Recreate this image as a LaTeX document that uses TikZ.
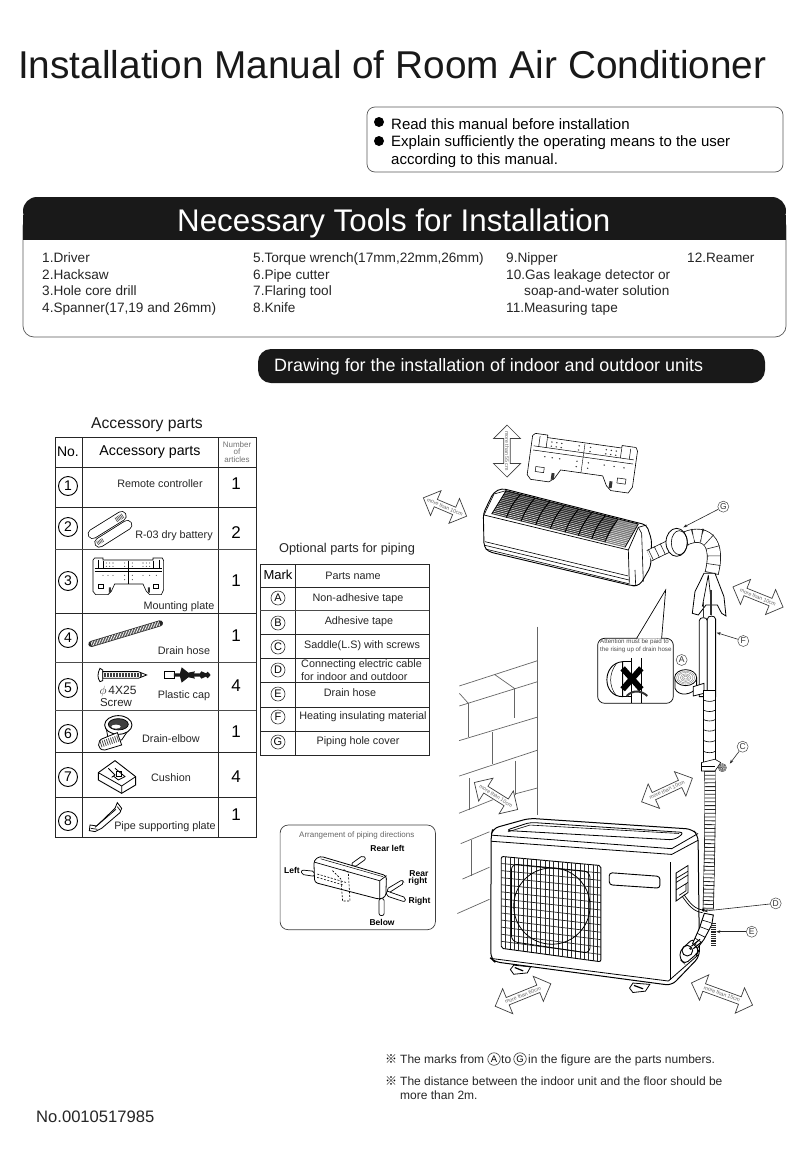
\documentclass[tikz,border=0pt]{standalone}
\usepackage{fontspec}
\setmainfont{Liberation Sans}
\newfontfamily\cjkf{Noto Sans CJK SC}
\usetikzlibrary{shapes.arrows,arrows.meta,calc}
\newcommand{\fs}[1]{\fontsize{#1}{#1}\selectfont}
\tikzset{
  zi/.style={shift={(40,410)},x=0.3333pt,y=-0.3333pt},
  zii/.style={shift={(400,410)},x=0.3333pt,y=-0.3333pt},
  ziii/.style={shift={(270,690)},x=0.3376pt,y=-0.3376pt},
  ziv/.style={shift={(470,470)},x=0.3333pt,y=-0.3333pt},
  zv/.style={shift={(660,880)},x=0.3333pt,y=-0.3333pt},
  grid line/.style={line width=1pt,draw=black!85},
  thin grid/.style={line width=0.6pt,draw=black!70},
  wall/.style={line width=0.7pt,draw=black!60},
  num/.style={circle,draw=black,line width=0.9pt,minimum size=19pt,inner sep=0pt,font=\fs{14}},
  mk/.style={circle,draw=black!80,line width=0.6pt,minimum size=14pt,inner sep=0pt,font=\fs{11}},
  lab/.style={circle,draw=black!70,line width=0.5pt,minimum size=11pt,inner sep=0pt,font=\fs{8.5},text=black!80},
  txt/.style={inner sep=0pt,font=\fs{10.8},text=black!85},
  base/.style={inner sep=0pt,anchor=base west},
  darrow/.style={shape=double arrow,draw=black!75,fill=white,line width=0.7pt,minimum height=#1,minimum width=27pt,double arrow head extend=5.5pt,inner sep=0pt,font=\fs{5.3},text=black!60},
  leader/.style={line width=0.6pt,draw=black!85,-{Stealth[length=4pt,width=3pt]}},
  plate/.pic={
    \draw[line width=0.6pt,fill=white] (5,0)--(30,0)--(30,6)--(180,6)--(180,0)--(208,0)--(212,8)--(212,95)--(205,110)--(170,110)--(160,100)--(150,78)--(65,78)--(55,100)--(45,110)--(8,110)--(0,100)--(0,6)--cycle;
    \draw[line width=0.5pt] (5,30)--(207,30) (5,40)--(207,40) (15,5)--(15,30) (198,5)--(198,30) (30,8)--(30,30) (180,8)--(180,30);
    \draw[line width=0.4pt] (106,8)--(106,78);
    \foreach \x/\y in {40/15,50/15,60/15,95/15,118/15,150/15,160/15,170/15,40/25,50/25,60/25,95/25,118/25,150/25,160/25,170/25,30/52,45/52,60/52,95/52,118/52,150/52,170/52,190/52,95/65,118/65}
      {\fill[black!80] (\x,\y) circle[radius=1.7];}
    \draw[line width=0.5pt] (15,78) rectangle (32,90) (180,78) rectangle (197,90);
    \fill[black!80] (48,88) rectangle (54,104) (165,88) rectangle (171,104);
  }
}
\begin{document}
\begin{tikzpicture}[x=1pt,y=-1pt]
\useasboundingbox (0,0) rectangle (808,1170);
\fill[white] (0,0) rectangle (808,1170);

% ---------- headings
\node[base,font=\fs{38.8},text=black!90] (title) at (18,78) {Installation Manual of Room Air Conditioner};
\draw[line width=0.7pt,draw=black!65,rounded corners=8pt] (367,107) rectangle (783,172);
\fill[black] (379,122) circle[radius=5] (379,141) circle[radius=5];
\node[base,font=\fs{15}] (n1) at (391,129) {Read this manual before installation};
\node[base,font=\fs{15}] (n2) at (391,146) {Explain sufficiently the operating means to the user};
\node[base,font=\fs{15}] (n3) at (391,164) {according to this manual.};

% tools panel
\draw[line width=0.7pt,draw=black!65,rounded corners=11pt] (23,215) rectangle (786,337);
\fill[black!90,rounded corners=14pt] (23,197) rectangle (786,225);
\fill[black!90] (23,215) rectangle (786,240);
\node[base,font=\fs{31.3},text=white] (tools) at (177,231) {Necessary Tools for Installation};
\foreach \x/\y/\t/\n in {42/262/{1.Driver}/a,42/279/{2.Hacksaw}/b,42/295.5/{3.Hole core drill}/c,42/312/{4.Spanner(17,19 and 26mm)}/d,
  253/262/{5.Torque wrench(17mm,22mm,26mm)}/e,253/279/{6.Pipe cutter}/f,253/295.5/{7.Flaring tool}/g,253/312/{8.Knife}/h,
  506/262/{9.Nipper}/i,506/279/{10.Gas leakage detector or}/j,524/295.5/{soap-and-water solution}/k,506/312/{11.Measuring tape}/l,687/262/{12.Reamer}/m}
  {\node[base,font=\fs{13.6},text=black!85] (t\n) at (\x,\y) {\t};}
\fill[black!90,rounded corners=13pt] (258,349) rectangle (765,383);
\node[base,font=\fs{17.9},text=white] (band) at (274,371) {Drawing for the installation of indoor and outdoor units};

% ---------- accessory table
\node[font=\fs{15.7},inner sep=0pt,text=black!90] (acc) at (147,425) {Accessory parts};
\draw[grid line] (55,437) rectangle (256,837);
\draw[grid line] (82,437)--(82,837) (218,437)--(218,837);
\foreach \y in {467,507,613,752,797} {\draw[grid line] (55,\y)--(256,\y);}
\foreach \y in {549,662,710} {\draw[thin grid] (55,\y)--(256,\y);}
\node[font=\fs{14},inner sep=0pt] (hno) at (68,452) {No.};
\node[font=\fs{14.2},inner sep=0pt] (hap) at (150,452) {Accessory parts};
\node[align=center,font=\fs{8},text=black!55,inner sep=0pt] (hnum) at (237,452) {Number\\[-0.5pt]of\\[-0.5pt]articles};
\foreach \n/\y/\q/\qy in {1/486/1/484,2/527/2/533,3/581/1/581,4/638/1/636,5/688/4/686,6/734/1/732,7/777/4/777,8/821/1/815}
  {\node[num] (no\n) at (68,\y) {\n}; \node[font=\fs{17},inner sep=0pt] (qty\n) at (236,\qy) {\q};}
\node[txt] (p1) at (160,484) {Remote controller};
\node[txt] (p2) at (174,536) {R-03 dry battery};
\node[txt] (p3) at (179,607) {Mounting plate};
\node[txt] (p4) at (184,651) {Drain hose};
\node[txt,font=\fs{12}] (p5a) at (118,691) {$\phi$\,4X25};
\node[txt,font=\fs{11.5}] (p5b) at (116,703) {Screw};
\node[txt] (p5c) at (184,696) {Plastic cap};
\node[txt] (p6) at (171,739) {Drain-elbow};
\node[txt] (p7) at (171,778) {Cushion};
\node[txt] (p8) at (165,827) {Pipe supporting plate};

% icons
\begin{scope}[zi]
  % batteries
  \draw[line cap=round,line width=10pt,black] (158,372)--(245,318);
  \draw[line cap=round,line width=8.4pt,white] (158,372)--(245,318);
  \draw[line cap=round,line width=10pt,black] (178,398)--(262,345);
  \draw[line cap=round,line width=8.4pt,white] (178,398)--(262,345);
  \draw[line width=5pt,black!70,dash pattern=on 0.6pt off 0.9pt] (228,330)--(250,316);
  \draw[line width=4pt,black!70,dash pattern=on 0.6pt off 0.9pt] (172,400)--(190,389);
  % drain hose
  \draw[line width=6pt,black!85,line cap=round] (154,702)--(360,640);
  \draw[line width=4.6pt,white,dash pattern=on 0.7pt off 0.9pt] (154,702)--(360,640);
  % screw
  \draw[line width=0.8pt,fill=white] (180,775) .. controls (172,790) and (172,805) .. (180,815) -- (188,812) -- (188,780) -- cycle;
  \draw[line width=0.8pt,fill=white] (188,785)--(295,785)--(320,795)--(295,805)--(188,805)--cycle;
  \draw[line width=4pt,black!75,dash pattern=on 0.7pt off 0.8pt] (192,795)--(305,795);
  % plastic cap
  \draw[line width=0.8pt,fill=white] (372,785) rectangle (402,805);
  \fill[black!90] (402,790)--(420,790)--(425,772)--(445,788)--(465,784)--(462,790)--(480,790)--(484,784)--(498,790)--(503,785)--(512,795)--(503,805)--(498,800)--(484,806)--(480,800)--(462,800)--(465,806)--(445,802)--(425,818)--(420,800)--(402,800)--cycle;
  % drain elbow
  \draw[line width=0.8pt,fill=white] (198,950)--(205,990)--(245,990)--(272,950)--cycle;
  \draw[line width=0.9pt,fill=white] (235,945) ellipse[x radius=41,y radius=28];
  \draw[line width=0.7pt,fill=black!75] (235,943) ellipse[x radius=30,y radius=17];
  \fill[white] (228,950) ellipse[x radius=14,y radius=6];
  \draw[line width=0.8pt,fill=white] (190,985)--(232,968)--(245,1005)--(195,1020)..controls (170,1022) and (170,990) .. cycle;
  \draw[line width=6.5pt,black!70,dash pattern=on 0.8pt off 1.4pt] (182,1003)--(236,985);
  % cushion
  \draw[line width=0.9pt,fill=white] (175,1088)--(225,1052)--(287,1100)--(287,1125)--(245,1150)--(175,1110)--cycle;
  \draw[line width=0.8pt] (175,1088)--(245,1128)--(287,1100) (245,1128)--(245,1150);
  \draw[line width=0.8pt] (205,1075)--(225,1095)--(215,1102) (225,1075)--(255,1100)--(235,1110)--(220,1098);
  \draw[line width=0.8pt] (230,1085) rectangle (245,1098);
  % pipe supporting plate
  \draw[line width=0.8pt,fill=white] (150,1245)--(170,1248)--(225,1195)--(232,1178)--(245,1195)--(240,1208)--(185,1255)--(165,1265)--(148,1262)--cycle;
  \draw[line width=0.7pt] (165,1252)--(228,1198) (152,1255)--(172,1258) (232,1190)--(242,1203);
\end{scope}
\begin{scope}[shift={(93,558)},x=0.3333pt,y=-0.3333pt]
  \pic at (0,0) {plate};
\end{scope}

% ---------- optional parts table
\node[font=\fs{12.8},inner sep=0pt,text=black!85] (opt) at (347,549) {Optional parts for piping};
\draw[grid line] (260,564) rectangle (429,755);
\draw[grid line] (295,564)--(295,755);
\foreach \y in {587,634,658,682,707,731} {\draw[grid line] (260,\y)--(429,\y);}
\draw[thin grid] (260,610)--(429,610);
\node[font=\fs{13},inner sep=0pt] (mark) at (278,575) {Mark};
\node[txt] (pn) at (353,576) {Parts name};
\foreach \l/\y in {A/598,B/623,C/647,D/670,E/694,F/717,G/742}
  {\node[mk] (m\l) at (278,\y) {\l};}
\node[txt] (oa) at (358,599) {Non-adhesive tape};
\node[txt] (ob) at (359,622) {Adhesive tape};
\node[txt] (oc) at (362,646) {Saddle(L.S) with screws};
\node[txt,anchor=west] (od1) at (301,665) {Connecting electric cable};
\node[txt,anchor=west] (od2) at (301,677) {for indoor and outdoor};
\node[txt] (oe) at (350,693) {Drain hose};
\node[txt] (of) at (363,717) {Heating insulating material};
\node[txt] (og) at (358,742) {Piping hole cover};

% ---------- wall (upper)
\begin{scope}[zii]
  \draw[wall] (413,650)--(413,850);
  \draw[wall] (178,828)--(413,752) (178,888)--(413,815) (283,793)--(343,835) (178,850)--(205,880);
  \draw[wall] (343,835)--(343,925) (205,880)--(205,930);
\end{scope}
\begin{scope}[ziii]
  \draw[wall] (793,0)--(793,370);
  \draw[wall] (560,150)--(793,80) (560,255)--(793,178) (560,365)--(660,325) (725,308)--(793,290);
  \draw[wall] (565,455)--(650,420) (570,560)--(650,525) (555,662)--(650,620);
  \draw[wall] (588,40)--(588,140) (658,125)--(658,220) (728,210)--(728,310) (590,260)--(590,355) (595,445)--(595,550);
\end{scope}

% ---------- indoor unit
\begin{scope}[shift={(533,433)},rotate=-8,x=0.5pt,y=-0.42pt]
  \pic[transform shape] at (0,0) {plate};
\end{scope}
\node[darrow=52pt,rotate=-90,minimum width=27pt,double arrow head extend=7pt] (a55) at (507,451) {more than 55 cm};
\node[darrow=47pt,rotate=-23] (a1) at (445,507) {more than 10cm};
\begin{scope}[ziv]
  % body
  \draw[line width=0.9pt,fill=white,rounded corners=4pt] (40,130)--(70,68)--(95,55)--(530,165)--(545,210)--(542,290)--(510,345)--(490,348)--(55,245)--(42,230)--cycle;
  \draw[line width=0.7pt] (42,135)--(475,240)--(478,338);
  \draw[line width=0.6pt] (45,215)--(475,318) (45,226)--(477,330) (50,238)--(480,342);
  % grille
  \coordinate (gfl) at (65,132); \coordinate (gfr) at (465,232);
  \coordinate (gbl) at (108,62); \coordinate (gbr) at (505,162);
  \fill[black!82] (gfl)--(gbl)--(gbr)--(gfr)--cycle;
  \foreach \s/\w in {0.05/0.55,0.12/0.55,0.19/0.5,0.26/0.5,0.33/0.45,0.40/0.4,0.47/0.35,0.54/0.35,0.61/0.3,0.68/0.3,0.75/0.25,0.82/0.2,0.89/0.2,0.95/0.15}
    {\draw[white,line width=\w pt] ($(gfl)!\s!(gbl)$)--($(gfr)!\s!(gbr)$);}
  \foreach \t in {0.11,0.22,0.33,0.44,0.55,0.65,0.75,0.85}
    {\draw[black,line width=1pt] ($(gfl)!\t!(gfr)$) to[bend left=10] ($(gbl)!\t!(gbr)$);}
  \fill[white,opacity=0.35] ($(gfl)!0.85!(gfr)$)--($(gbl)!0.85!(gbr)$)--(gbr)--(gfr)--cycle;
  \draw[line width=0.7pt] (gbl)--(gbr) (gfl)--(gbl);
  \draw[line width=0.7pt] (gbr)--(gfr);
  % end caps
  \draw[line width=0.7pt] (475,240)--(505,172)--(530,165);
  \draw[line width=0.6pt] (505,172)--(515,190)--(520,335) (495,300)--(497,345);
  \draw[line width=0.6pt] (42,135)--(72,72)--(108,62);
\end{scope}
\begin{scope}[zii]
  % small hose to ring
  \draw[line width=12pt,black] (748,437)--(835,395);
  \draw[line width=10.6pt,white] (748,437)--(835,395);
  \draw[line width=12pt,black!85,dash pattern=on 0.6pt off 6pt] (752,435)--(800,412);
  % hose bend
  \draw[line width=14pt,black] (840,395) .. controls (890,360) and (965,370) .. (935,490);
  \draw[line width=12.6pt,white] (840,395) .. controls (890,360) and (965,370) .. (935,490);
  \draw[line width=14pt,black!85,dash pattern=on 0.6pt off 8pt] (855,388) .. controls (895,362) and (965,370) .. (935,490);
  % ring
  \draw[line width=0.8pt,fill=white] (830,397) ellipse[x radius=32,y radius=42];
  \draw[line width=0.6pt] (838,398) ellipse[x radius=24,y radius=36];
  % branch
  \draw[line width=0.8pt,fill=white] (912,490)--(885,545)--(877,610)--(895,615)--(918,585)--(952,585)--(965,610)--(978,618)--(972,560)--(945,490)--cycle;
  \draw[line width=0.7pt] (925,495)--(907,590) (925,495)--(932,560);
  \draw[line width=1.6pt,black!80] (910,575)--(910,620) (933,540)--(933,615);
  % pipes
  \draw[line width=0.8pt,fill=white] (898,632) .. controls (898,620) and (922,620) .. (922,632) -- (922,860)--(898,860)--cycle;
  \draw[line width=0.8pt,fill=white] (922,628) .. controls (922,615) and (947,615) .. (947,628) -- (947,860)--(922,860)--cycle;
  % tape roll A
  \draw[line width=0.8pt,fill=white] (825,805)--(825,835) .. controls (835,862) and (880,855) .. (890,830)--(890,805)--cycle;
  \draw[line width=0.8pt,fill=white] (857,803) ellipse[x radius=33,y radius=24];
  \foreach \r in {6,11,16,22,27} {\draw[line width=0.3pt,black!55] (857,803) ellipse[x radius=\r,y radius=0.72*\r];}
  \draw[line width=0.8pt,fill=white] (880,830)--(912,820)--(912,850)--(880,858)--cycle;
  % attention box
  \draw[line width=0.7pt,fill=white,rounded corners=7pt] (593,685) rectangle (820,880);
  \coordinate (tip) at (797,540);
  \fill[white] (712,686)--(tip)--(783,686)--cycle;
  \draw[line width=0.7pt] (710,685)--(tip)--(785,685);
  \draw[line width=0.9pt] (695,745)--(695,880) (725,745)--(725,880) (668,755)--(668,860);
  \draw[line width=0.9pt,fill=white] (668,755) .. controls (605,760) and (605,860) .. (668,860)--cycle;
  \draw[line width=0.7pt] (668,755)--(695,755) (668,860)--(695,860);
  \draw[line width=0.5pt] (650,760) .. controls (626,790) and (626,830) .. (650,858);
  \draw[line width=2pt,black!80] (680,858) .. controls (700,838) and (725,842) .. (742,858);
  \draw[line width=6pt,black] (668,775)--(724,838) (724,775)--(668,838);
  \node[anchor=base west,inner sep=0pt,font=\fs{6.2},text=black!70] (at1) at (600,700) {Attention must be paid to};
  \node[anchor=base west,inner sep=0pt,font=\fs{6.2},text=black!70] (at2) at (600,725) {the rising up of drain hose};
  % labels
  \node[lab] (lg) at (970,290) {G};
  \coordinate (lgend) at (850,352);
  \draw[leader] (lg)--(lgend);
  \node[lab] (lf) at (1030,693) {F};
  \coordinate (lfend) at (950,668);
  \draw[leader] (lf)--(lfend);
  \node[lab] (la) at (845,750) {A};
\end{scope}
\node[darrow=54pt,rotate=-22] (a2) at (758,597) {more than 10cm};

% ---------- outdoor unit
\node[darrow=51pt,rotate=-32] (a3) at (496,796) {more than 10cm};
\node[darrow=56pt,rotate=25] (a4) at (667,790) {more than 10cm};
\node[darrow=60pt,rotate=22] (a5) at (523,995) {more than 60cm};
\node[darrow=65pt,rotate=-20] (a6) at (722,994) {more than 15cm};
\begin{scope}[ziii]
  % feet
  \draw[line width=0.8pt,fill=white] (712,828)--(722,815)--(772,820)--(762,838)--(722,842)--cycle;
  \draw[line width=1.2pt] (725,822)--(750,832);
  \draw[line width=0.8pt,fill=white] (1065,883)--(1075,868)--(1125,872)--(1112,892)--(1075,896)--cycle;
  \draw[line width=1.2pt] (1078,875)--(1105,885);
  % body
  \draw[line width=1pt,fill=white,rounded corners=6pt] (655,430)--(660,410)--(768,380)--(1250,412)--(1268,430)--(1272,790)--(1190,875)--(665,805)--(654,795)--cycle;
  \draw[line width=0.8pt] (656,430)--(1190,470)--(1268,425);
  \draw[line width=0.8pt] (655,448)--(1190,487)--(1268,445);
  \draw[line width=0.8pt,rounded corners=5pt,fill=white] (698,416)--(770,392)--(1228,422)--(1198,444)--cycle;
  \draw[line width=0.6pt] (705,420)--(770,400)--(1212,425);
  \draw[line width=0.8pt] (1185,510)--(1185,858);
  \draw[line width=0.8pt] (654,795)--(1180,862)--(1268,785);
  % grille
  \coordinate (otl) at (685,493); \coordinate (otr) at (980,520);
  \coordinate (obl) at (685,765); \coordinate (obr) at (980,805);
  \draw[line width=0.9pt,rounded corners=2pt] (otl)--(otr)--(obr)--(obl)--cycle;
  \foreach \t in {0.043,0.087,...,0.99}
    {\draw[line width=0.7pt,black!85] ($(otl)!\t!(otr)$)--($(obl)!\t!(obr)$);}
  \foreach \t in {0.077,0.154,...,0.99}
    {\draw[line width=0.7pt,black!85] ($(otl)!\t!(obl)$)--($(otr)!\t!(obr)$);}
  \draw[line width=0.8pt] (835,640) circle[radius=113];
  \draw[line width=0.8pt,rounded corners=6pt] (715,515)--(948,538)--(948,780)--(715,745)--cycle;
  % plate
  \draw[line width=0.9pt,rounded corners=3pt] (1005,541)--(1155,552)--(1155,587)--(1005,577)--cycle;
  % terminal
  \draw[line width=0.8pt,fill=white] (1203,542)--(1238,520)--(1238,600)--(1203,625)--cycle;
  \draw[line width=0.7pt] (1203,558)--(1238,537) (1203,570)--(1238,548) (1203,592)--(1238,570) (1212,608)--(1232,595)--(1232,575);
  % ribbed hose upper
  \draw[line width=0.9pt,black,fill=white] (1285,0)--(1318,0)--(1318,215)--(1285,215)--cycle;
  \foreach \y in {30,60,88,118,150,182} {\draw[line width=0.6pt] (1285,\y) .. controls (1295,\y+5) and (1310,\y+5) .. (1318,\y);}
  % lower ribbed hose
  \draw[line width=11pt,black] (1303,240) .. controls (1305,400) and (1300,560) .. (1298,650);
  \draw[line width=9.7pt,white] (1303,240) .. controls (1305,400) and (1300,560) .. (1298,650);
  \draw[line width=11pt,black!85,dash pattern=on 0.8pt off 3pt] (1303,240) .. controls (1305,400) and (1300,560) .. (1298,650);
  % clamp
  \draw[line width=0.6pt,fill=white] (1278,215)--(1318,205)--(1335,215)--(1318,240)--(1278,240)--cycle;
  \draw[line width=0.6pt] (1278,225)--(1318,225);
  \foreach \r in {3,6,9,12} {\draw[line width=0.5pt,black!70] (1340,230) circle[radius=\r];}
\end{scope}
\begin{scope}[zv]
  % cable and lower piping
  \draw[line width=0.7pt] (66,48) .. controls (85,75) and (100,95) .. (128,98);
  \draw[line width=0.7pt] (72,44) .. controls (90,70) and (105,88) .. (130,90);
  \fill[black] (130,90) circle[radius=5];
  % corner piece and base curve
  \draw[line width=0.9pt,fill=white,rounded corners=4pt] (60,212)--(100,175)--(116,212)--(112,220)--(75,252)--(60,238)--cycle;
  \draw[line width=0.9pt] (82,212) circle[radius=16];
  % tail of the hose
  \draw[line width=0.9pt,fill=white] (133,100)--(160,105)--(155,135)--(132,178)--(112,205)--(98,190)--(118,145)--cycle;
  \draw[line width=0.6pt] (126,120)--(152,128) (120,140)--(146,150) (112,160)--(136,172) (106,175)--(126,188);
  \draw[line width=1.1pt] (95,198)--(120,178) (100,206)--(125,186);
  \fill[black!85] (92,205) circle[radius=5] (106,192) circle[radius=4];
  % drain hose E
  \draw[line width=4.5pt,black!85,dash pattern=on 1pt off 0.8pt] (160,130)--(160,196);
\end{scope}
\begin{scope}[ziii]
  % labels
  \node[lab] (lc) at (1400,168) {C};
  \coordinate (lcend) at (1362,218);
  \draw[leader] (lc)--(lcend);
  \node[lab] (ld) at (1498,632) {D};
  \coordinate (ldend) at (1285,655);
  \draw[leader] (ld)--(ldend);
  \node[lab] (le) at (1427,716) {E};
  \coordinate (leend) at (1322,716);
  \draw[leader] (le)--(leend);

  % arrangement box
  \draw[line width=0.7pt,draw=black!75,rounded corners=8pt] (30,400) rectangle (490,710);
  \node[font=\fs{8},text=black!60,inner sep=0pt] (arr) at (257,430) {Arrangement of piping directions};
  \node[font=\bfseries\fs{8.5},inner sep=0pt] (rl) at (348,470) {Rear left};
  \node[font=\bfseries\fs{8.5},inner sep=0pt] (lf2) at (65,534) {Left};
  \node[font=\bfseries\fs{8.5},inner sep=0pt] (rr1) at (441,545) {Rear};
  \node[font=\bfseries\fs{8.5},inner sep=0pt] (rr2) at (438,568) {right};
  \node[font=\bfseries\fs{8.5},inner sep=0pt] (rg) at (443,625) {Right};
  \node[font=\bfseries\fs{8.5},inner sep=0pt] (bl) at (332,688) {Below};
  % mini pipes
  \draw[line width=0.7pt,rounded corners=2pt,fill=white] (240,515)--(275,490)--(285,500)--(250,525)--cycle;
  \draw[line width=0.7pt,rounded corners=2pt,fill=white] (345,590)--(392,562)--(397,572)--(350,602)--cycle;
  \draw[line width=0.7pt,rounded corners=2pt,fill=white] (93,533)--(132,537)--(132,552)--(93,546)--cycle;
  \draw[line width=0.7pt,rounded corners=2pt,fill=white] (345,595)--(402,615)--(400,628)--(345,610)--cycle;
  \draw[line width=0.7pt,rounded corners=2pt,fill=white] (323,618)--(338,618)--(338,668)--(323,668)--cycle;
  % mini unit
  \draw[line width=0.8pt,fill=white,rounded corners=3pt] (130,505)--(148,492)--(345,550)--(343,612)--(325,620)--(132,570)--cycle;
  \draw[line width=0.7pt] (132,510)--(325,565)--(325,620) (325,565)--(345,550);
  \draw[line width=0.5pt] (150,500)--(335,553);
  \draw[line width=0.6pt,dash pattern=on 2pt off 1.5pt] (140,545)--(225,570) (140,555)--(215,577);
  \draw[line width=0.6pt,dash pattern=on 2pt off 1.5pt] (185,535)--(210,560)--(215,625)--(237,625)--(232,540)--(215,530);
\end{scope}

% ---------- bottom notes
\node[base,font=\cjkf\fs{12}] (s1) at (385,1063) {※};
\node[base,font=\fs{12},text=black!85] (b1) at (400,1063) {The marks from};
\node[mk,minimum size=12.5pt,font=\fs{9.5}] (ba) at (494,1059) {A};
\node[base,font=\fs{12},text=black!85] (b2) at (501,1063) {to};
\node[mk,minimum size=12.5pt,font=\fs{9.5}] (bg) at (520,1059) {G};
\node[base,font=\fs{12},text=black!85] (b3) at (528,1063) {in the figure are the parts numbers.};
\node[base,font=\cjkf\fs{12}] (s2) at (385,1085) {※};
\node[base,font=\fs{12},text=black!85] (b4) at (400,1085) {The distance between the indoor unit and the floor should be};
\node[base,font=\fs{12},text=black!85] (b5) at (400,1099) {more than 2m.};
\node[base,font=\fs{16.6},text=black!85] (code) at (36,1122) {No.0010517985};
\end{tikzpicture}
\end{document}
